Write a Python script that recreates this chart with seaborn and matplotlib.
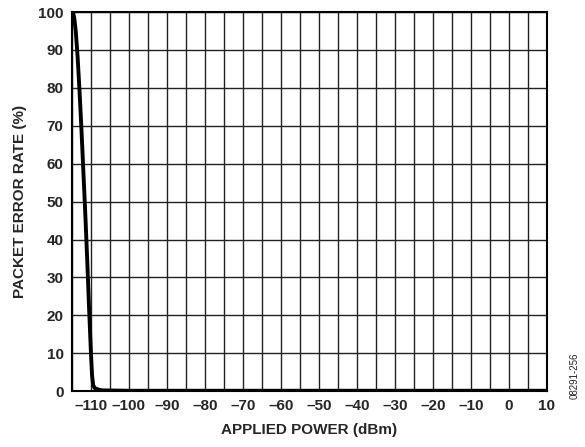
import numpy as np
import pandas as pd
import matplotlib
matplotlib.use("Agg")
import matplotlib.pyplot as plt
import seaborn as sns

# applied power (dBm) vs packet error rate (%)
power_dbm = [-115, -114.7, -114.4, -114, -113.5, -113, -112.5, -112, -111.5,
             -111, -110.5, -110, -109.7, -109.4, -109, -108, -107, -100, -50, 0, 10]
per_pct = [100, 99.8, 98.5, 95, 88, 79, 69, 58, 47,
           35, 22, 10, 4, 1.5, 0.8, 0.4, 0.2, 0.1, 0.1, 0.1, 0.1]
x_ticks = list(range(-110, 11, 10))
y_ticks = list(range(0, 101, 10))

sns.set_style("white")
plt.rcParams['font.family'] = ['Liberation Sans', 'DejaVu Sans']

df = pd.DataFrame({'power': power_dbm, 'per': per_pct})

fig = plt.figure(figsize=(5.85, 4.47), dpi=100)
ax = fig.add_axes([0.123, 0.125, 0.812, 0.848])

ax.set_xlim(-115, 10)
ax.set_ylim(0, 100)
ax.set_xticks(np.arange(-115, 11, 5), minor=True)
ax.set_xticks(x_ticks)
ax.set_yticks(y_ticks)
ax.grid(True, which='both', color='#222222', linewidth=1.0)
ax.set_axisbelow(True)

sns.lineplot(data=df, x='power', y='per', ax=ax, color='black', linewidth=2.8)

ax.set_xticklabels([str(t).replace('-', '\u2013') for t in x_ticks],
                   fontsize=11, fontweight='bold')
ax.set_yticklabels([str(t) for t in y_ticks], fontsize=11, fontweight='bold')
ax.tick_params(which='both', length=0, pad=6)

for s in ax.spines.values():
    s.set_color('black')
    s.set_linewidth(1.5)

ax.set_xlabel('APPLIED POWER (dBm)', fontsize=11, fontweight='bold', labelpad=7)
ax.set_ylabel('PACKET ERROR RATE (%)', fontsize=11, fontweight='bold', labelpad=8)

fig.text(0.983, 0.16, '08291-256', rotation=90, fontsize=7, ha='center', va='center')

fig.savefig('out.png', dpi=100)
